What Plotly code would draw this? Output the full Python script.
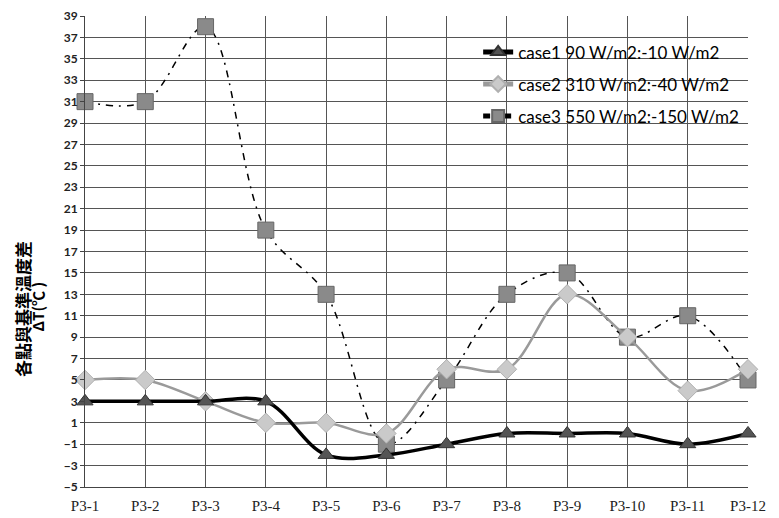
import plotly.graph_objects as go

points = ["P3-1", "P3-2", "P3-3", "P3-4", "P3-5", "P3-6",
          "P3-7", "P3-8", "P3-9", "P3-10", "P3-11", "P3-12"]
case1 = [3, 3, 3, 3, -2, -2, -1, 0, 0, 0, -1, 0]
case2 = [5, 5, 3, 1, 1, 0, 6, 6, 13, 9, 4, 6]
case3 = [31, 31, 38, 19, 13, -1, 5, 13, 15, 9, 11, 5]
names = ["case1 90 W/m2:-10 W/m2", "case2 310 W/m2:-40 W/m2", "case3 550 W/m2:-150 W/m2"]
y_ticks = list(range(-5, 40, 2))

fig = go.Figure()
fig.add_trace(go.Scatter(
    x=points, y=case3, name=names[2], mode="lines+markers", legendgroup="c3",
    line=dict(color="black", width=1.5, shape="spline", dash="7px,6px,2px,6px"),
    marker=dict(symbol="square", size=16, color="#8a8a8a",
                line=dict(color="#666666", width=1)),
    cliponaxis=False, legendrank=3))
fig.add_trace(go.Scatter(
    x=points, y=case2, name=names[1], mode="lines+markers", legendgroup="c2",
    line=dict(color="#9a9a9a", width=2.5, shape="spline"),
    marker=dict(symbol="diamond", size=15, color="#cacaca",
                line=dict(color="#b0b0b0", width=1)),
    cliponaxis=False, legendrank=2))
fig.add_trace(go.Scatter(
    x=points, y=case1, name=names[0], mode="lines+markers", legendgroup="c1",
    line=dict(color="black", width=3.5, shape="spline"),
    marker=dict(symbol="triangle-up", size=14, color="#555555",
                line=dict(color="#333333", width=1)),
    cliponaxis=False, legendrank=1))

fig.update_layout(
    width=771, height=510,
    margin=dict(l=77, r=31, t=8, b=31, autoexpand=False),
    paper_bgcolor="white", plot_bgcolor="white",
    showlegend=True,
    legend=dict(x=0.593, y=0.961, xanchor="left", yanchor="top",
                bgcolor="rgba(0,0,0,0)", font=dict(family="Lato", size=17, color="black"),
                tracegroupgap=7, traceorder="grouped", itemsizing="constant"),
    xaxis=dict(type="category", range=[0, 11], showgrid=True, gridcolor="#555555",
               gridwidth=1, showline=True, linecolor="#444444", zeroline=False,
               automargin=False, ticks="", ticklabelstandoff=5, ticklabeloverflow="allow",
               tickfont=dict(family="Liberation Serif", size=15, color="#222222")),
    yaxis=dict(range=[-5, 39], tickvals=y_ticks, showgrid=True, gridcolor="#555555",
               gridwidth=1, showline=True, linecolor="#444444", zeroline=False,
               automargin=False, ticks="outside", ticklen=4, tickcolor="#444444",
               ticklabeloverflow="allow",
               tickfont=dict(family="Lato", size=12, color="#222222", weight="bold")),
    annotations=[
        dict(text="各點與基準溫度差", xref="paper", yref="paper",
             x=-0.0935, y=0.378, xanchor="center", yanchor="middle",
             textangle=-90, showarrow=False,
             font=dict(family="Noto Sans CJK TC", size=17, color="black", weight="bold")),
        dict(text="ΔT(℃ )", xref="paper", yref="paper",
             x=-0.0709, y=0.383, xanchor="center", yanchor="middle",
             textangle=-90, showarrow=False,
             font=dict(family="Noto Sans CJK TC", size=15, color="black", weight="bold")),
    ],
)

fig.write_html("out.html", config={"displayModeBar": False})
